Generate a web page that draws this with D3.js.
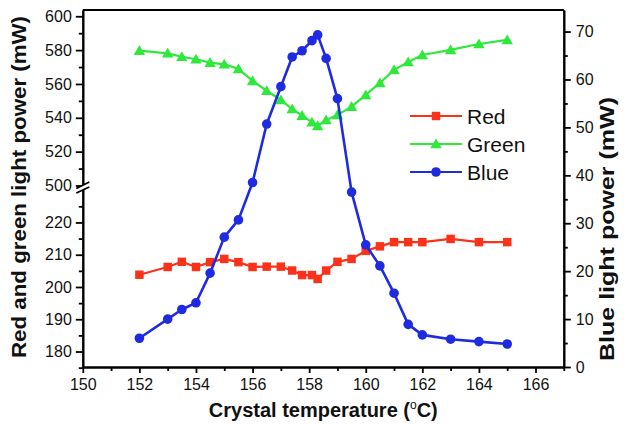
<!DOCTYPE html>
<html>
<head>
<meta charset="utf-8">
<script src="https://cdn.jsdelivr.net/npm/d3@7"></script>
<style>
  html, body { margin: 0; padding: 0; background: #fff; }
  svg { display: block; font-family: "Liberation Sans", Arial, sans-serif; }
</style>
</head>
<body>
<svg id="chart" width="625" height="424"></svg>
<script>
// ---- data ----
const temps = [152,153,153.5,154,154.5,155,155.5,156,156.5,157,157.4,157.75,158.1,158.3,158.6,159,159.5,160,160.5,161,161.5,162,163,164,165];
const redPower = [203.8,206.2,207.8,206.2,207.7,208.7,207.7,206.2,206.3,206.3,205.1,203.7,203.7,202.5,205.1,207.8,208.7,211.2,212.6,213.9,213.9,213.9,214.9,213.9,213.9];
const greenPower = [579.7,578.1,576.1,574.6,572.6,571.6,568.9,561.8,556,550.5,545.2,541.3,537.4,535.2,538.7,541.7,546.6,553.5,560.6,568.3,573,577.1,580.1,583.6,586];
const bluePower = [6.0,10.0,12.0,13.4,19.6,27.1,30.7,38.5,50.7,58.5,64.7,66.0,68.1,69.3,64.4,56.0,36.5,25.5,21.1,15.4,8.9,6.7,5.8,5.3,4.8];

const xTicks = [150,152,154,156,158,160,162,164,166];
const xMinor = [151,153,155,157,159,161,163,165,167];
const upperTicks = [500,520,540,560,580,600];
const upperMinor = [510,530,550,570,590];
const lowerTicks = [180,190,200,210,220];
const lowerMinor = [175,185,195,205,215,225];
const rightTicks = [0,10,20,30,40,50,60,70];
const rightMinor = [5,15,25,35,45,55,65];
const seriesNames = ["Red","Green","Blue"];
const seriesColors = ["#fa3219","#2fe83c","#1e2be0"];

// ---- layout ----
const L = 82.8, R = 563.8, T = 10, B = 367, BRK = 186;
const svg = d3.select("#chart");

const x = d3.scaleLinear().domain([150,167]).range([L,R]);
const yLow = d3.scaleLinear().domain([175.2,231.3]).range([B,BRK]);
const yHigh = d3.scaleLinear().domain([500,603.7]).range([185.5,T]);
const yBlue = d3.scaleLinear().domain([0,74.5]).range([B,T]);

const tickFont = "16px";
function styleAxis(g){
  g.selectAll("path.domain").attr("stroke","#000").attr("stroke-width",2);
  g.selectAll(".tick line").attr("stroke","#000").attr("stroke-width",1.8);
  g.selectAll(".tick text").attr("fill","#111").style("font-size",tickFont);
}

// bottom axis
svg.append("g").attr("transform",`translate(0,${B})`)
  .call(d3.axisBottom(x).tickValues(xMinor).tickSize(4).tickFormat("").tickSizeOuter(0))
  .call(styleAxis);
svg.append("g").attr("transform",`translate(0,${B})`)
  .call(d3.axisBottom(x).tickValues(xTicks).tickSize(6).tickPadding(6).tickFormat(d3.format("d")).tickSizeOuter(0))
  .call(styleAxis);

// top frame line
svg.append("line").attr("x1",L).attr("x2",R).attr("y1",T).attr("y2",T)
  .attr("stroke","#000").attr("stroke-width",2);

// left axis upper
svg.append("g").attr("transform",`translate(${L},0)`)
  .call(d3.axisLeft(yHigh).tickValues(upperMinor).tickSize(4).tickFormat("").tickSizeOuter(0))
  .call(styleAxis);
svg.append("g").attr("transform",`translate(${L},0)`)
  .call(d3.axisLeft(yHigh).tickValues(upperTicks).tickSize(7).tickPadding(4).tickFormat(d3.format("d")).tickSizeOuter(0))
  .call(styleAxis);
// left axis lower
svg.append("g").attr("transform",`translate(${L},0)`)
  .call(d3.axisLeft(yLow).tickValues(lowerMinor).tickSize(4).tickFormat("").tickSizeOuter(0))
  .call(styleAxis);
svg.append("g").attr("transform",`translate(${L},0)`)
  .call(d3.axisLeft(yLow).tickValues(lowerTicks).tickSize(7).tickPadding(4).tickFormat(d3.format("d")).tickSizeOuter(0))
  .call(styleAxis);

// right axis
svg.append("g").attr("transform",`translate(${R},0)`)
  .call(d3.axisRight(yBlue).tickValues(rightMinor).tickSize(4).tickFormat("").tickSizeOuter(0))
  .call(styleAxis);
svg.append("g").attr("transform",`translate(${R},0)`)
  .call(d3.axisRight(yBlue).tickValues(rightTicks).tickSize(7).tickPadding(5).tickFormat(d3.format("d")).tickSizeOuter(0))
  .call(styleAxis);

// axis break marks
svg.append("path")
  .attr("d",`M${L-6},${BRK+2.5} L${L+6},${BRK-4} L${L+6},${BRK+1} L${L-6},${BRK+7} Z`)
  .attr("fill","#fff").attr("stroke","none");
svg.append("line").attr("x1",L-6.5).attr("y1",BRK+2.5).attr("x2",L+6.5).attr("y2",BRK-4)
  .attr("stroke","#000").attr("stroke-width",1.8);
svg.append("line").attr("x1",L-6.5).attr("y1",BRK+7).attr("x2",L+6.5).attr("y2",BRK+1)
  .attr("stroke","#000").attr("stroke-width",1.8);

// ---- series ----
const redData = temps.map((t,i)=>({x:t,y:redPower[i]}));
const greenData = temps.map((t,i)=>({x:t,y:greenPower[i]}));
const blueData = temps.map((t,i)=>({x:t,y:bluePower[i]}));

function drawLine(data, yScale, color, width){
  svg.append("path").datum(data)
    .attr("fill","none").attr("stroke",color).attr("stroke-width",width)
    .attr("stroke-linejoin","round")
    .attr("d", d3.line().x(d=>x(d.x)).y(d=>yScale(d.y)));
}
drawLine(redData, yLow, seriesColors[0], 2.2);
drawLine(greenData, yHigh, seriesColors[1], 2.2);

const sqSym = d3.symbol().type(d3.symbolSquare).size(72);
const triSym = d3.symbol().type(d3.symbolTriangle).size(56);

svg.append("g").selectAll("path").data(redData).join("path")
  .attr("d", sqSym).attr("fill",seriesColors[0])
  .attr("transform", d=>`translate(${x(d.x)},${yLow(d.y)})`);
svg.append("g").selectAll("path").data(greenData).join("path")
  .attr("d", triSym).attr("fill",seriesColors[1])
  .attr("transform", d=>`translate(${x(d.x)},${yHigh(d.y)+1})`);

drawLine(blueData, yBlue, seriesColors[2], 2.6);
svg.append("g").selectAll("circle").data(blueData).join("circle")
  .attr("cx", d=>x(d.x)).attr("cy", d=>yBlue(d.y)).attr("r",4.8)
  .attr("fill",seriesColors[2]);

// ---- legend ----
const legY = [116,144,172];
const lg = svg.append("g");
seriesNames.forEach((name,i)=>{
  const y = legY[i];
  lg.append("line").attr("x1",410).attr("x2",462).attr("y1",y).attr("y2",y)
    .attr("stroke",seriesColors[i]).attr("stroke-width",2.2);
  if(i===0) lg.append("path").attr("d",sqSym).attr("fill",seriesColors[i]).attr("transform",`translate(436,${y})`);
  if(i===1) lg.append("path").attr("d",triSym).attr("fill",seriesColors[i]).attr("transform",`translate(436,${y+1})`);
  if(i===2) lg.append("circle").attr("cx",436).attr("cy",y).attr("r",4.8).attr("fill",seriesColors[i]);
  lg.append("text").attr("x",467).attr("y",y+7.5).text(name)
    .style("font-size","21px").attr("fill","#111");
});

// ---- titles ----
const xt = svg.append("text").attr("x",(L+R)/2).attr("y",417).attr("text-anchor","middle")
  .style("font-size","20px").style("font-weight","bold").attr("fill","#111");
xt.append("tspan").text("Crystal temperature (");
xt.append("tspan").text("o").attr("dy",-8).style("font-size","12px").style("font-weight","normal");
xt.append("tspan").text("C)").attr("dy",8);

svg.append("text")
  .attr("transform","translate(26,187) rotate(-90)")
  .attr("text-anchor","middle")
  .attr("textLength",342).attr("lengthAdjust","spacingAndGlyphs")
  .style("font-size","20px").style("font-weight","bold").attr("fill","#111")
  .text("Red and green light power (mW)");

svg.append("text")
  .attr("transform","translate(614,229) rotate(-90)")
  .attr("text-anchor","middle")
  .attr("textLength",264).attr("lengthAdjust","spacingAndGlyphs")
  .style("font-size","20px").style("font-weight","bold").attr("fill","#111")
  .text("Blue light power (mW)");
</script>
</body>
</html>
